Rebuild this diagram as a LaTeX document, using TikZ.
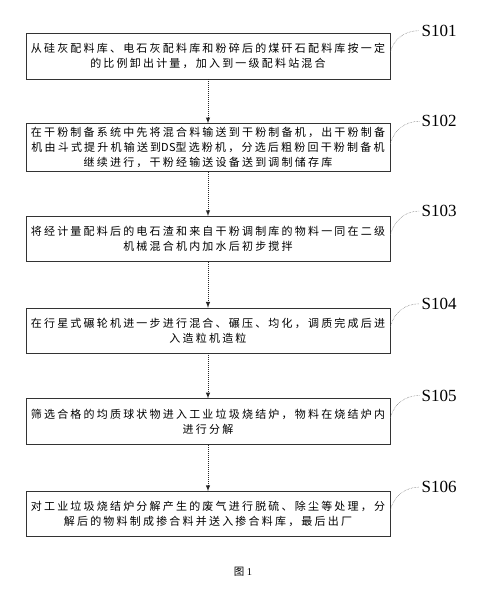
\documentclass[tikz,border=0pt]{standalone}
\usepackage{fontspec}
\setmainfont{Liberation Serif}
\newfontfamily\cjk{Noto Sans CJK SC}[LetterSpace=20]
\usetikzlibrary{positioning}

\begin{document}
\begin{tikzpicture} [
      stepbox/.style={draw=black!80, rectangle, line width=0.7pt, minimum width=364pt, minimum height=46pt,
        inner ysep=1pt, align=center, font=\cjk\fontsize{11pt}{15pt}\selectfont},
      steplabel/.style={font=\fontsize{17pt}{17pt}\selectfont, inner sep=2pt},
      flow/.style={->, >=latex, densely dotted, line width=1pt, black!85},
      leader/.style={black!60, densely dotted, line width=0.5pt}
   ]
    \useasboundingbox (0pt, 0pt) rectangle (489pt, -590pt);

    \node[stepbox] (ndMix) at (208pt, -56pt) {
      从硅灰配料库、电石灰配料库和粉碎后的煤矸石配料库按一定\\
      的比例卸出计量，加入到一级配料站混合
    };
    \node[stepbox, below=44pt of ndMix, minimum height=48pt] (ndPowder) {
      在干粉制备系统中先将混合料输送到干粉制备机，出干粉制备\\
      机由斗式提升机输送到{\addfontfeature{LetterSpace=2}DS}型选粉机，分选后粗粉回干粉制备机\\
      继续进行，干粉经输送设备送到调制储存库
    };
    \node[stepbox, below=44pt of ndPowder, minimum height=45pt] (ndStir) {
      将经计量配料后的电石渣和来自干粉调制库的物料一同在二级\\
      机械混合机内加水后初步搅拌
    };
    \node[stepbox, below=46pt of ndStir, minimum height=45pt] (ndGranule) {
      在行星式碾轮机进一步进行混合、碾压、均化，调质完成后进\\
      入造粒机造粒
    };
    \node[stepbox, below=45pt of ndGranule] (ndFurnace) {
      筛选合格的均质球状物进入工业垃圾烧结炉，物料在烧结炉内\\
      进行分解
    };
    \node[stepbox, below=46pt of ndFurnace, minimum height=45pt] (ndOutput) {
      对工业垃圾烧结炉分解产生的废气进行脱硫、除尘等处理，分\\
      解后的物料制成掺合料并送入掺合料库，最后出厂
    };

    \draw[flow] (ndMix) -- (ndPowder);
    \draw[flow] (ndPowder) -- (ndStir);
    \draw[flow] (ndStir) -- (ndGranule);
    \draw[flow] (ndGranule) -- (ndFurnace);
    \draw[flow] (ndFurnace) -- (ndOutput);

    \node[steplabel, right=29pt of ndMix.north east, yshift=2pt] (lbMix) {S101};
    \node[steplabel, right=29pt of ndPowder.north east, yshift=2pt] (lbPowder) {S102};
    \node[steplabel, right=29pt of ndStir.north east, yshift=5pt] (lbStir) {S103};
    \node[steplabel, right=29pt of ndGranule.north east, yshift=4pt] (lbGranule) {S104};
    \node[steplabel, right=29pt of ndFurnace.north east, yshift=3pt] (lbFurnace) {S105};
    \node[steplabel, right=29pt of ndOutput.north east, yshift=4pt] (lbOutput) {S106};

    \draw[leader] ([yshift=4pt]ndMix.east) to[out=75, in=180] (lbMix.west);
    \draw[leader] ([yshift=4pt]ndPowder.east) to[out=75, in=180] (lbPowder.west);
    \draw[leader] ([yshift=4pt]ndStir.east) to[out=75, in=180] (lbStir.west);
    \draw[leader] ([yshift=4pt]ndGranule.east) to[out=75, in=180] (lbGranule.west);
    \draw[leader] ([yshift=4pt]ndFurnace.east) to[out=75, in=180] (lbFurnace.west);
    \draw[leader] ([yshift=4pt]ndOutput.east) to[out=75, in=180] (lbOutput.west);

    \node[below=27pt of ndOutput, xshift=35pt, font=\fontsize{10.5pt}{10.5pt}\selectfont] (ndCaption) {{\cjk 图} 1};
  \end{tikzpicture}
\end{document}
